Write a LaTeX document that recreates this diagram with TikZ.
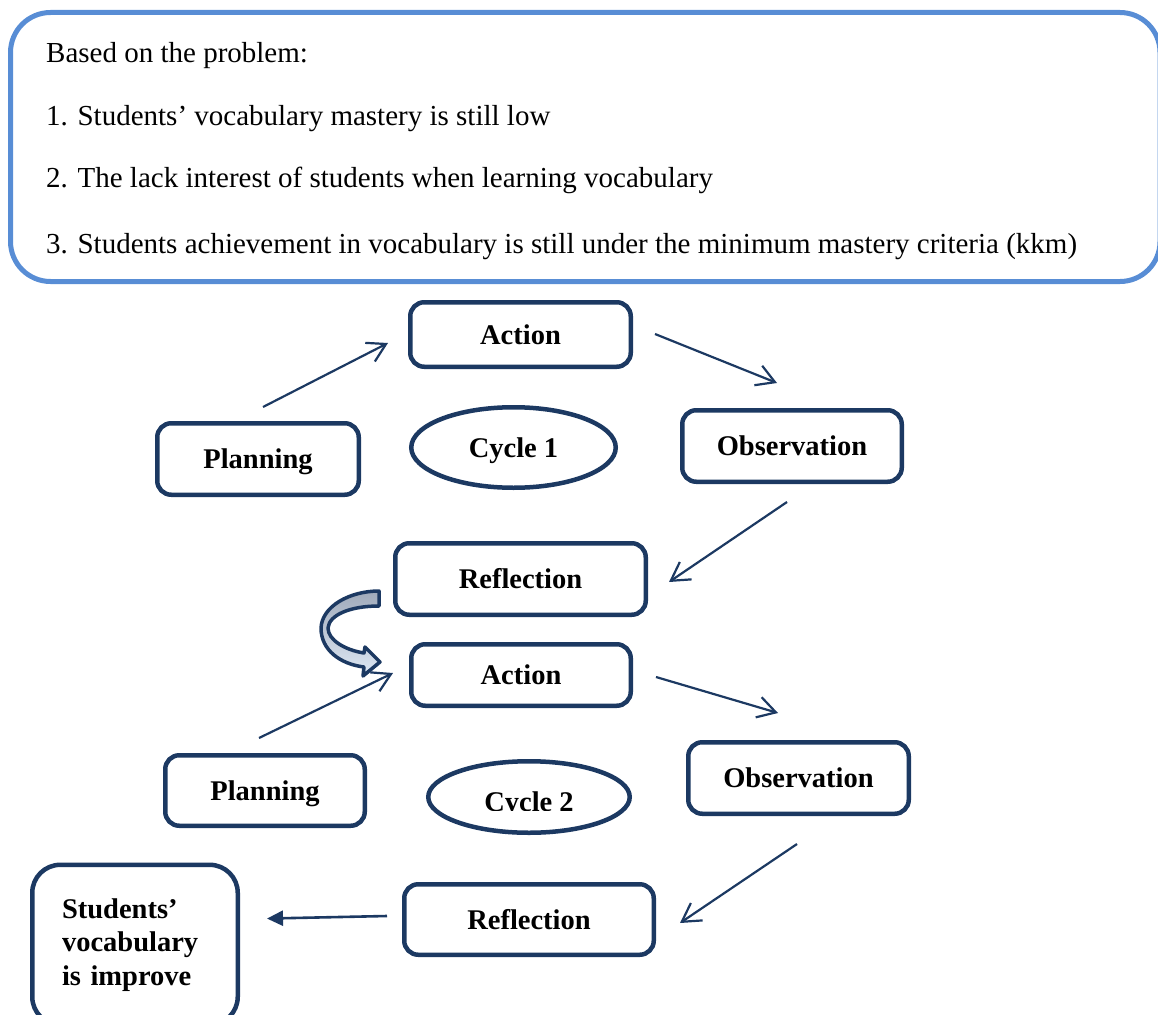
\documentclass[tikz,border=0pt]{standalone}
\usepackage{fontspec}
\setmainfont{Liberation Serif}
\usetikzlibrary{arrows.meta,calc,shapes.geometric}
\definecolor{navy}{RGB}{28,57,98}
\definecolor{skyb}{RGB}{88,141,213}
\definecolor{bandtop}{RGB}{160,170,186}
\definecolor{bandbot}{RGB}{222,232,244}
\begin{document}
\begin{tikzpicture}[x=1pt,y=-1pt,
  stepbox/.style={draw=navy, line width=4.5pt, rounded corners=14pt, fill=white,
    font=\fontsize{28.5}{33.5}\selectfont\bfseries, text height=19pt, text depth=0pt,
    inner sep=0pt, align=center},
  cyc/.style={draw=navy, line width=4.5pt, ellipse, inner sep=0pt,
    font=\fontsize{28.5}{33.5}\selectfont\bfseries, text height=19pt, text depth=0pt},
  lbl/.style={inner sep=0pt, font=\fontsize{28.5}{33.5}\selectfont\bfseries, text height=19pt, text depth=0pt},
  probline/.style={inner sep=0pt, anchor=base west, font=\fontsize{29}{34}\selectfont},
  arr/.style={draw=navy, line width=2.2pt, -{Straight Barb[length=18pt,width=21pt]}},
  farr/.style={draw=navy, line width=2.6pt, -{Triangle[length=16pt,width=15pt]}}
]
\useasboundingbox (0,0) rectangle (1158,1014);
\clip (0,0) rectangle (1158,1014);

% problem box
\node[draw=skyb, line width=5pt, rounded corners=40pt, minimum width=1149.5pt,
      minimum height=269pt, inner sep=0pt] (prob) at (585.25,147) {};
\node[probline] (p0) at (46,63) {Based on the problem:};
\node[probline] (p1) at (46,125) {1. Students’ vocabulary mastery is still low};
\node[probline] (p2) at (46,187) {2. The lack interest of students when learning vocabulary};
\node[probline] (p3) at (46,253) {3. Students achievement in vocabulary is still under the minimum mastery criteria (kkm)};

% cycle 1
\node[stepbox, minimum width=220.5pt, minimum height=64.5pt] (act1) at (520.5,334.5) {Action};
\node[stepbox, minimum width=201.5pt, minimum height=71.5pt] (plan1) at (258,459) {Planning};
\node[cyc, minimum width=204.5pt, minimum height=80.5pt] (cyc1) at (513.5,447.5) {Cycle 1};
\node[stepbox, minimum width=219.5pt, minimum height=71.5pt] (obs1) at (792,446) {Observation};
\node[stepbox, minimum width=250.5pt, minimum height=71.5pt] (ref1) at (520.5,579) {Reflection};

% cycle 2
\node[stepbox, minimum width=219.5pt, minimum height=61.5pt] (act2) at (521,675) {Action};
\node[stepbox, minimum width=199.5pt, minimum height=70.5pt] (plan2) at (265,790.5) {Planning};
\node[cyc, minimum width=201.5pt, minimum height=71.5pt] (cyc2) at (529,797) {};
\begin{scope}
  \clip (430,770) rectangle (630,810);
  \node[lbl] (cyc2txt) at (529,801.5) {Cycle 2};
\end{scope}
\node[stepbox, minimum width=220.5pt, minimum height=71.5pt] (obs2) at (798.5,778) {Observation};
\node[stepbox, minimum width=249.5pt, minimum height=70.5pt] (ref2) at (529,919.5) {Reflection};

\node[draw=navy, line width=4.5pt, rounded corners=28pt, fill=white, inner sep=0pt,
      align=left, text width=146pt, minimum width=205.5pt, minimum height=160pt,
      font=\fontsize{28.5}{33.5}\selectfont\bfseries] (stud) at (135,944.8)
      {Students’\\vocabulary\\is improve};

% connectors
\draw[arr] ($(plan1.north)+(5,-14)$) -- ($(act1.west)+(-20,8.5)$);
\draw[arr] ($(act1.east)+(22,-0.5)$) -- ($(obs1.north)+(-15,-25)$);
\draw[arr] ($(obs1.south)+(-5,18)$) -- ($(ref1.east)+(21,3)$);
\draw[arr] ($(plan2.north)+(-6,-15)$) -- ($(act2.west)+(-16,-2)$);
\draw[arr] ($(act2.east)+(23,2)$) -- ($(obs2.north)+(-20.5,-27)$);
\draw[arr] ($(obs2.south)+(-1.5,28)$) -- ($(ref2.east)+(24,3.5)$);
\draw[farr] ($(ref2.west)+(-15,-3.5)$) -- ($(stud.north east)+(27,56)$);

% curved block arrow from Reflection 1 to Action 2
\path[draw=navy, line width=3.5pt, line join=round, top color=bandtop, bottom color=bandbot]
  (379,591) -- (379,606)
  .. controls (350,606) and (329,615) .. (328,628)
  .. controls (328,640) and (345,650) .. (364,653)
  -- (365,647) -- (380,662) -- (363,676) -- (364,667)
  .. controls (340,664) and (321,650) .. (321,628)
  .. controls (322,606) and (350,591) .. (379,591) -- cycle;
\end{tikzpicture}
\end{document}
